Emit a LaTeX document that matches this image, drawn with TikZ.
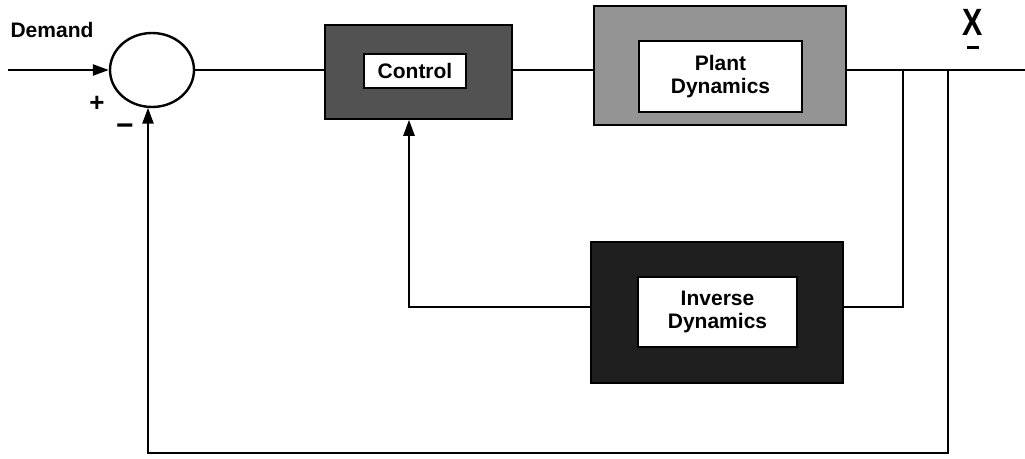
\documentclass[tikz,border=0pt]{standalone}
\usepackage{fontspec}
\setmainfont{Liberation Sans}
\usetikzlibrary{arrows.meta,shapes.geometric}
\begin{document}
\begin{tikzpicture}[x=1pt,y=-1pt,
  wire/.style={line width=2.4pt},
  arr/.style={wire,-{Triangle[length=16pt,width=11pt]}},
  outerbox/.style={draw=black,line width=1.5pt,inner sep=0pt},
  innerbox/.style={draw=black,line width=1.8pt,fill=white,inner sep=0pt,
    align=center,font=\fontsize{21}{24}\selectfont\bfseries},
  lbl/.style={font=\fontsize{21}{24}\selectfont\bfseries,inner sep=0pt}]
  \useasboundingbox (0,0) rectangle (1025,458);

  % summing junction and input
  \node[ellipse,draw,line width=2.4pt,minimum width=84pt,minimum height=74pt,inner sep=0pt]
    (sum) at (152,70) {};
  \coordinate (in) at (8,70);
  \node[lbl] (demand) at (52,30) {Demand};
  \node[font=\fontsize{26}{26}\selectfont\bfseries,inner sep=0pt] (plus) at (97,104) {+};
  \node[font=\fontsize{30}{30}\selectfont\bfseries,inner sep=0pt] (minus) at (125,130) {−};

  % blocks
  \node[outerbox,fill=black!68,minimum width=187pt,minimum height=94pt] (ctrl) at (418.5,72) {};
  \node[innerbox,minimum width=102pt,minimum height=34pt] (ctrlin) at (415,71) {Control};

  \node[outerbox,fill=black!42,minimum width=252pt,minimum height=119pt] (plant) at (720,65.5) {};
  \node[innerbox,minimum width=163pt,minimum height=71pt] (plantin) at (720.5,76.5)
    {Plant\\[-1pt]Dynamics};

  \node[outerbox,fill=black!88,minimum width=252pt,minimum height=141pt] (inv) at (717,312.5) {};
  \node[innerbox,minimum width=159pt,minimum height=70pt] (invin) at (717.5,312)
    {Inverse\\[-1pt]Dynamics};

  % output label
  \node[inner sep=0pt,align=center] (xout) at (973,29)
    {\fontsize{38}{38}\selectfont\bfseries\scalebox{0.8}[1]{X}\\[1pt]\rule{12pt}{2.2pt}};

  % branch and corner points
  \coordinate (out) at (1025,70);
  \coordinate (b1) at (903,70);
  \coordinate (b2) at (948,70);
  \coordinate (ib) at (903,307);
  \coordinate (ic) at (409,307);
  \coordinate (sb) at (948,453);
  \coordinate (sc) at (148,453);

  % forward path
  \draw[arr] (in) -- (sum.west);
  \draw[wire] (sum.east) -- (sum.east -| ctrl.west);
  \draw[wire] (sum.east -| ctrl.east) -- (sum.east -| plant.west);
  \draw[wire] (sum.east -| plant.east) -- (out);

  % inner loop through the inverse dynamics
  \draw[wire] (b1) -- (ib) -- (ib -| inv.east);
  \draw[arr] (ic -| inv.west) -- (ic) -- (ic |- ctrl.south);

  % outer feedback loop
  \draw[arr] (b2) -- (sb) -- (sc) -- ([yshift=0.5pt]sc |- sum.south);
\end{tikzpicture}
\end{document}
